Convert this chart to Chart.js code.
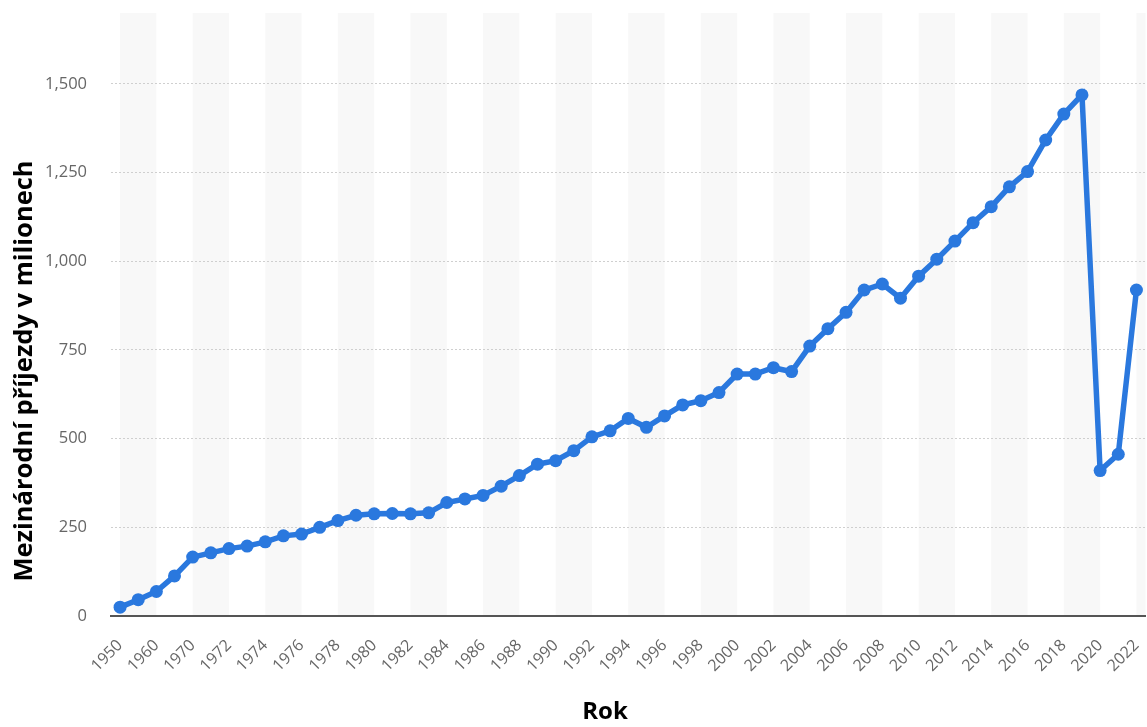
<!DOCTYPE html>
<html>
<head>
<meta charset="utf-8">
<script src="https://cdn.jsdelivr.net/npm/chart.js@4.4.0/dist/chart.umd.min.js"></script>
<style>
  html, body { margin: 0; padding: 0; background: #fff; overflow: hidden; }
  #wrap { width: 1152px; height: 727px; position: relative; }
</style>
</head>
<body>
<div id="wrap"><canvas id="chart1"></canvas></div>
<script>
// data
var years = ['1950', '1955', '1960', '1965',
  '1970', '1971', '1972', '1973', '1974', '1975', '1976', '1977', '1978', '1979',
  '1980', '1981', '1982', '1983', '1984', '1985', '1986', '1987', '1988', '1989',
  '1990', '1991', '1992', '1993', '1994', '1995', '1996', '1997', '1998', '1999',
  '2000', '2001', '2002', '2003', '2004', '2005', '2006', '2007', '2008', '2009',
  '2010', '2011', '2012', '2013', '2014', '2015', '2016', '2017', '2018', '2019',
  '2020', '2021', '2022'];

var arrivals = [25, 46, 69, 113,
  166, 178, 190, 197, 209, 226, 231, 250, 269, 284,
  288, 289, 288, 291, 320, 330, 340, 366, 396, 428,
  438, 466, 505, 522, 557, 532, 564, 595, 607, 630,
  682, 682, 700, 689, 761, 810, 856, 919, 936, 896,
  958, 1006, 1057, 1109, 1154, 1210, 1253, 1342, 1415, 1469,
  410, 456, 919];

var yTicks = [0, 250, 500, 750, 1000, 1250, 1500];

var xTitle = 'Rok';
var yTitle = 'Mezinárodní příjezdy v milionech';

Chart.defaults.font.family = "'Open Sans', 'Noto Sans', sans-serif";

// alternating background bands, every 2 categories
var bands = {
  id: 'bands',
  beforeDraw: function(chart) {
    var ctx = chart.ctx, a = chart.chartArea, x = chart.scales.x;
    ctx.save();
    ctx.beginPath();
    ctx.rect(a.left, a.top, a.right - a.left, a.bottom - a.top);
    ctx.clip();
    ctx.fillStyle = '#f8f8f8';
    for (var i = 0; i < years.length; i += 4) {
      var x0 = x.getPixelForValue(i);
      var x1 = x.getPixelForValue(i + 2);
      ctx.fillRect(x0, a.top, x1 - x0, a.bottom - a.top);
    }
    ctx.restore();
  }
};

// axis titles placed like the original
var titles = {
  id: 'titles',
  afterDraw: function(chart) {
    var ctx = chart.ctx;
    ctx.save();
    ctx.fillStyle = '#000';
    ctx.textAlign = 'center';
    ctx.textBaseline = 'middle';
    ctx.font = "bold 24px 'Open Sans', sans-serif";
    ctx.fillText(xTitle, 605, 712);
    ctx.font = "bold 25.5px 'Open Sans', sans-serif";
    ctx.translate(25, 371);
    ctx.rotate(-Math.PI / 2);
    ctx.fillText(yTitle, 0, 0);
    ctx.restore();
  }
};

var ctx = document.getElementById('chart1').getContext('2d');

var myChart = new Chart(ctx, {
  type: 'line',
  data: {
    labels: years,
    datasets: [{
      label: yTitle,
      data: arrivals,
      borderColor: '#2a78de',
      backgroundColor: '#2a78de',
      borderWidth: 5.5,
      pointRadius: 6.5,
      pointBorderWidth: 0,
      pointBackgroundColor: '#2a78de',
      tension: 0
    }]
  },
  options: {
    responsive: true,
    maintainAspectRatio: false,
    animation: false,
    locale: 'en-US',
    layout: { padding: { top: 13, right: 2, left: 0, bottom: 0 } },
    plugins: {
      legend: { display: false },
      tooltip: { enabled: false }
    },
    scales: {
      x: {
        offset: true,
        grid: { display: false },
        border: { display: true, color: '#555', width: 2 },
        ticks: {
          autoSkip: false,
          maxRotation: 45,
          minRotation: 45,
          padding: 12,
          color: '#666',
          font: { size: 16 },
          callback: function(v, i) { return i % 2 === 0 ? years[i] : ''; }
        },
        afterFit: function(s) {
          s.height = 111;
          s.paddingLeft = 0;
          s.paddingRight = 0;
        }
      },
      y: {
        min: 0,
        max: 1700,
        border: { display: false, dash: [2, 2] },
        grid: { color: '#cfcfcf', drawTicks: false },
        ticks: {
          stepSize: 250,
          padding: 24,
          color: '#666',
          font: { size: 16.5 }
        },
        afterBuildTicks: function(s) {
          s.ticks = yTicks.map(function(v) { return { value: v }; });
        },
        afterFit: function(s) {
          s.width = 111;
          s.paddingTop = 0;
          s.paddingBottom = 0;
        }
      }
    }
  },
  plugins: [bands, titles]
});
</script>
</body>
</html>
